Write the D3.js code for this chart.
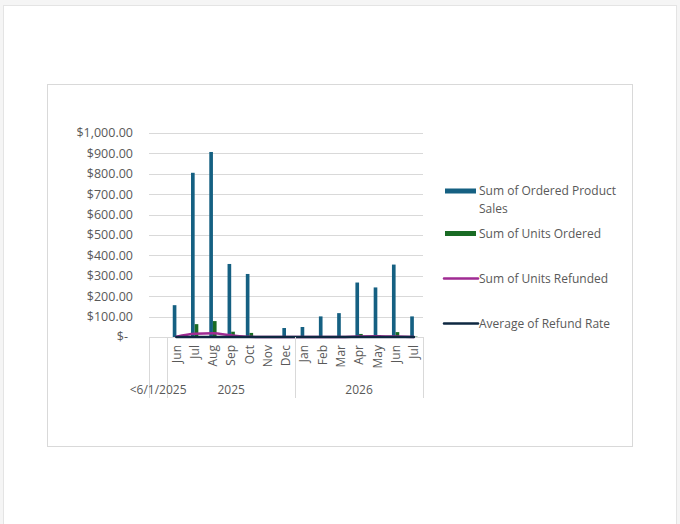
<!DOCTYPE html>
<html>
<head>
<meta charset="utf-8">
<script src="https://cdn.jsdelivr.net/npm/d3@7"></script>
<style>
  html, body { margin: 0; padding: 0; background: #f5f5f5; }
  svg { display: block; }
  text { font-family: "Open Sans", "Liberation Sans", sans-serif; fill: #595959; }
</style>
</head>
<body>
<svg id="chart" width="680" height="524"></svg>
<script>
// ---- data ----
const months = ["", "Jun", "Jul", "Aug", "Sep", "Oct", "Nov", "Dec", "Jan", "Feb", "Mar", "Apr", "May", "Jun", "Jul"];
const groupLabels = ["<6/1/2025", "2025", "2026"];
const groupSizes = [1, 7, 7];
const sales = [null, 156, 805, 907, 358, 309, 4, 44, 49, 101, 117, 267, 243, 355, 101];
const unitsOrdered = [null, 2, 63, 78, 26, 20, 1, 1, 1, 2, 2, 15, 8, 24, 2];
const unitsRefunded = [null, 1, 16, 18, 8, 1, 0, 0, 0, 0, 0, 3, 4, 2, 0];
const refundRate = [null, 0.33, 0.25, 0.23, 0.31, 0.05, 0, 0, 0, 0, 0, 0.2, 0.5, 0.08, 0];
const yTicks = [0, 100, 200, 300, 400, 500, 600, 700, 800, 900, 1000];
const legendItems = [
  { lines: ["Sum of Ordered Product", "Sales"], color: "#156082", type: "bar" },
  { lines: ["Sum of Units Ordered"], color: "#196B24", type: "bar" },
  { lines: ["Sum of Units Refunded"], color: "#A02B93", type: "line" },
  { lines: ["Average of Refund Rate"], color: "#0E2841", type: "line" }
];

const svg = d3.select("#chart");

// page frame
svg.append("rect").attr("x", 3.5).attr("y", 5.5).attr("width", 673).attr("height", 540)
  .attr("fill", "#ffffff").attr("stroke", "#e4e4e4").attr("stroke-width", 1);

// chart area border
svg.append("rect").attr("x", 47.5).attr("y", 84.5).attr("width", 585).attr("height", 362)
  .attr("fill", "#ffffff").attr("stroke", "#d9d9d9").attr("stroke-width", 1);

const plotLeft = 149, plotRight = 423, plotTop = 133, plotBottom = 337;

const idx = d3.range(months.length);
const x = d3.scaleBand().domain(idx).range([plotLeft, plotRight]).padding(0);
const y = d3.scaleLinear().domain([0, 1000]).range([plotBottom, plotTop]);

// gridlines
svg.append("g").selectAll("line").data(yTicks).join("line")
  .attr("x1", plotLeft).attr("x2", plotRight)
  .attr("y1", d => Math.round(y(d)) + 0.5).attr("y2", d => Math.round(y(d)) + 0.5)
  .attr("stroke", "#d9d9d9").attr("stroke-width", 1);

// y axis labels
const fmt = d3.format(",.2f");
svg.append("g").selectAll("text").data(yTicks).join("text")
  .attr("x", d => d === 0 ? 128 : 133)
  .attr("y", d => y(d))
  .attr("dy", "0.35em")
  .attr("text-anchor", "end")
  .style("font-size", "12.5px")
  .text(d => d === 0 ? "$-" : "$" + fmt(d));

// bars
const bw = x.bandwidth() / 5;
const cx = i => x(i) + x.bandwidth() / 2;
svg.append("g").selectAll("rect").data(idx.filter(i => sales[i] != null)).join("rect")
  .attr("x", i => cx(i) - bw).attr("width", bw)
  .attr("y", i => y(sales[i])).attr("height", i => y(0) - y(sales[i]))
  .attr("fill", "#156082");
svg.append("g").selectAll("rect").data(idx.filter(i => unitsOrdered[i] != null)).join("rect")
  .attr("x", i => cx(i)).attr("width", bw)
  .attr("y", i => y(unitsOrdered[i])).attr("height", i => y(0) - y(unitsOrdered[i]))
  .attr("fill", "#196B24");

// lines
const lineGen = arr => d3.line()
  .defined(i => arr[i] != null)
  .x(i => cx(i)).y(i => y(arr[i]))
  .curve(d3.curveMonotoneX);
svg.append("path").datum(idx).attr("d", lineGen(unitsRefunded))
  .attr("fill", "none").attr("stroke", "#A02B93").attr("stroke-width", 2.5)
  .attr("stroke-linecap", "round");
svg.append("path").datum(idx).attr("d", lineGen(refundRate))
  .attr("fill", "none").attr("stroke", "#0E2841").attr("stroke-width", 2.5)
  .attr("stroke-linecap", "round");

// category axis: month labels
svg.append("g").selectAll("text").data(idx.filter(i => months[i] !== "")).join("text")
  .attr("transform", i => `translate(${cx(i)},345) rotate(-90)`)
  .attr("text-anchor", "end")
  .attr("dy", "0.35em")
  .style("font-size", "12px")
  .text(i => months[i]);

// group separators and labels
let start = 0;
const bounds = [0];
groupSizes.forEach(s => { start += s; bounds.push(start); });
svg.append("g").selectAll("line").data(bounds).join("line")
  .attr("x1", b => Math.round(b < months.length ? x(b) : plotRight) + 0.5)
  .attr("x2", b => Math.round(b < months.length ? x(b) : plotRight) + 0.5)
  .attr("y1", plotBottom).attr("y2", 398)
  .attr("stroke", "#d9d9d9").attr("stroke-width", 1);
svg.append("g").selectAll("text").data(groupLabels).join("text")
  .attr("x", (d, k) => {
    const a = x(bounds[k]);
    const b = bounds[k + 1] < months.length ? x(bounds[k + 1]) : plotRight;
    return (a + b) / 2;
  })
  .attr("y", 390)
  .attr("dy", "0.35em")
  .attr("text-anchor", "middle")
  .style("font-size", "12px")
  .text(d => d);

// legend
const legendY = [191, 233.5, 278.5, 323.5];
const lg = svg.append("g");
legendItems.forEach((it, k) => {
  const yy = legendY[k];
  if (it.type === "bar") {
    lg.append("rect").attr("x", 445).attr("y", yy - 2.5).attr("width", 31).attr("height", 5)
      .attr("fill", it.color);
  } else {
    lg.append("line").attr("x1", 444).attr("x2", 478).attr("y1", yy).attr("y2", yy)
      .attr("stroke", it.color).attr("stroke-width", 2.5).attr("stroke-linecap", "round");
  }
  it.lines.forEach((t, j) => {
    lg.append("text").attr("x", 479).attr("y", yy + j * 17.5).attr("dy", "0.35em")
      .style("font-size", "12px").text(t);
  });
});
</script>
</body>
</html>
